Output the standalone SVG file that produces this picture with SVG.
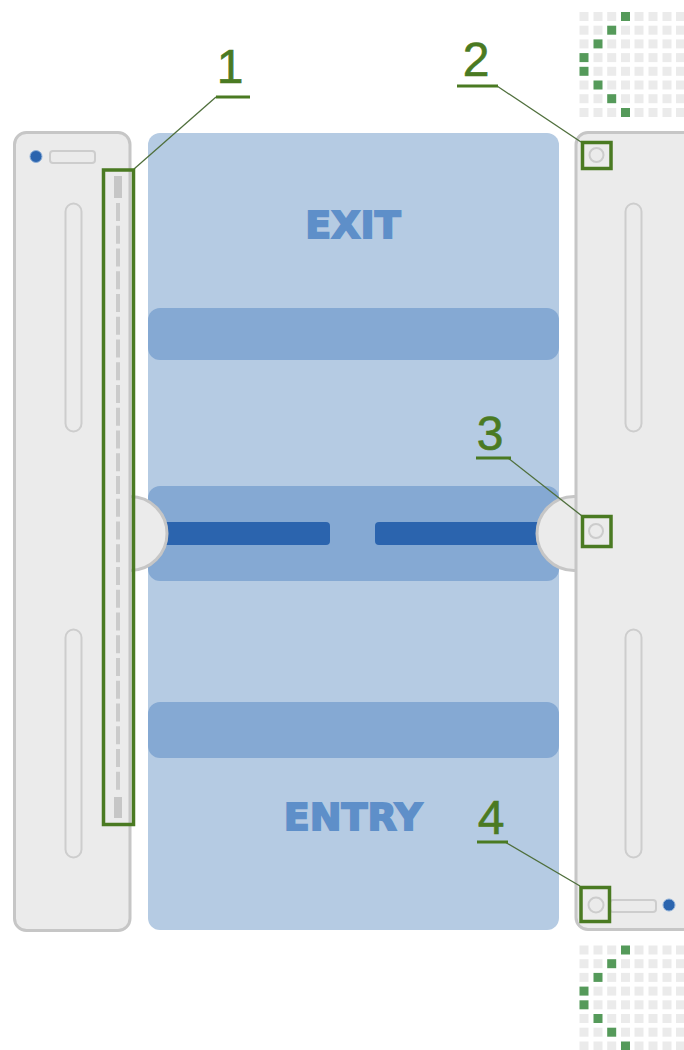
<svg xmlns="http://www.w3.org/2000/svg" xmlns:xlink="http://www.w3.org/1999/xlink" width="684" height="1050" viewBox="0 0 684 1050">
<style>
.panel{fill:#ebebeb;stroke:#c6c6c6;stroke-width:3}
.slot{fill:#ebebeb;stroke:#cdcdcd;stroke-width:2}
.led{fill:#2b64ae;stroke:#8fb0d8;stroke-width:1}
.band{fill:#85a9d3}
.bar{fill:#2b64ae}
.knob{fill:#ebebeb;stroke:#c6c6c6;stroke-width:3}
.port{fill:#ebebeb;stroke:#cccccc;stroke-width:2}
.mark{fill:none;stroke:#4a7a22;stroke-width:3.500}
.lead{fill:none;stroke:#4f6f3c;stroke-width:1.300}
.under{fill:none;stroke:#4a7a22;stroke-width:3}
.num{font-family:"Liberation Sans",Arial,sans-serif;font-size:48px;fill:#4a7a22;stroke:#4a7a22;stroke-width:.6;text-anchor:middle}
.word{font-family:"DejaVu Sans",sans-serif;font-weight:bold;font-size:38px;fill:#5e8fc9;stroke:#5e8fc9;stroke-width:1.800;text-anchor:middle}
.d{fill:#ebebeb}
.g{fill:#559a5a}
</style>
<defs>
<g id="grid">
<rect class="d" x="0" y="0" width="9" height="9"/><rect class="d" x="14" y="0" width="9" height="9"/><rect class="d" x="27.7" y="0" width="9" height="9"/><rect class="g" x="41.5" y="0" width="9" height="9"/><rect class="d" x="55" y="0" width="9" height="9"/><rect class="d" x="69" y="0" width="9" height="9"/><rect class="d" x="83" y="0" width="9" height="9"/><rect class="d" x="96.5" y="0" width="9" height="9"/>
<rect class="d" x="0" y="13.7" width="9" height="9"/><rect class="d" x="14" y="13.7" width="9" height="9"/><rect class="g" x="27.7" y="13.7" width="9" height="9"/><rect class="d" x="41.5" y="13.7" width="9" height="9"/><rect class="d" x="55" y="13.7" width="9" height="9"/><rect class="d" x="69" y="13.7" width="9" height="9"/><rect class="d" x="83" y="13.7" width="9" height="9"/><rect class="d" x="96.5" y="13.7" width="9" height="9"/>
<rect class="d" x="0" y="27.4" width="9" height="9"/><rect class="g" x="14" y="27.4" width="9" height="9"/><rect class="d" x="27.7" y="27.4" width="9" height="9"/><rect class="d" x="41.5" y="27.4" width="9" height="9"/><rect class="d" x="55" y="27.4" width="9" height="9"/><rect class="d" x="69" y="27.4" width="9" height="9"/><rect class="d" x="83" y="27.4" width="9" height="9"/><rect class="d" x="96.5" y="27.4" width="9" height="9"/>
<rect class="g" x="0" y="41.1" width="9" height="9"/><rect class="d" x="14" y="41.1" width="9" height="9"/><rect class="d" x="27.7" y="41.1" width="9" height="9"/><rect class="d" x="41.5" y="41.1" width="9" height="9"/><rect class="d" x="55" y="41.1" width="9" height="9"/><rect class="d" x="69" y="41.1" width="9" height="9"/><rect class="d" x="83" y="41.1" width="9" height="9"/><rect class="d" x="96.5" y="41.1" width="9" height="9"/>
<rect class="g" x="0" y="54.8" width="9" height="9"/><rect class="d" x="14" y="54.8" width="9" height="9"/><rect class="d" x="27.7" y="54.8" width="9" height="9"/><rect class="d" x="41.5" y="54.8" width="9" height="9"/><rect class="d" x="55" y="54.8" width="9" height="9"/><rect class="d" x="69" y="54.8" width="9" height="9"/><rect class="d" x="83" y="54.8" width="9" height="9"/><rect class="d" x="96.5" y="54.8" width="9" height="9"/>
<rect class="d" x="0" y="68.5" width="9" height="9"/><rect class="g" x="14" y="68.5" width="9" height="9"/><rect class="d" x="27.7" y="68.5" width="9" height="9"/><rect class="d" x="41.5" y="68.5" width="9" height="9"/><rect class="d" x="55" y="68.5" width="9" height="9"/><rect class="d" x="69" y="68.5" width="9" height="9"/><rect class="d" x="83" y="68.5" width="9" height="9"/><rect class="d" x="96.5" y="68.5" width="9" height="9"/>
<rect class="d" x="0" y="82.2" width="9" height="9"/><rect class="d" x="14" y="82.2" width="9" height="9"/><rect class="g" x="27.7" y="82.2" width="9" height="9"/><rect class="d" x="41.5" y="82.2" width="9" height="9"/><rect class="d" x="55" y="82.2" width="9" height="9"/><rect class="d" x="69" y="82.2" width="9" height="9"/><rect class="d" x="83" y="82.2" width="9" height="9"/><rect class="d" x="96.5" y="82.2" width="9" height="9"/>
<rect class="d" x="0" y="96" width="9" height="9"/><rect class="d" x="14" y="96" width="9" height="9"/><rect class="d" x="27.7" y="96" width="9" height="9"/><rect class="g" x="41.5" y="96" width="9" height="9"/><rect class="d" x="55" y="96" width="9" height="9"/><rect class="d" x="69" y="96" width="9" height="9"/><rect class="d" x="83" y="96" width="9" height="9"/><rect class="d" x="96.5" y="96" width="9" height="9"/>
</g>
</defs>
<rect width="684" height="1050" fill="#ffffff"/>

<g id="grid-top"><use href="#grid" x="579.5" y="12"/></g>
<g id="grid-bottom"><use href="#grid" x="579.5" y="945.5"/></g>

<g id="lane">
<rect x="148" y="133" width="411" height="797" rx="12" fill="#b5cbe3"/>
<rect class="band" x="148" y="308" width="411" height="52" rx="12"/>
<rect class="band" x="148" y="486" width="411" height="95" rx="12"/>
<rect class="band" x="148" y="702" width="411" height="56" rx="12"/>
<text class="word" x="353" y="238">EXIT</text>
<text class="word" x="353" y="830">ENTRY</text>
</g>

<g id="barrier">
<rect class="bar" x="160" y="522" width="170" height="23" rx="4"/>
<rect class="bar" x="375" y="522" width="175" height="23" rx="4"/>
<circle class="knob" cx="130" cy="533.5" r="37"/>
<circle class="knob" cx="574" cy="533.5" r="37"/>
</g>

<g id="gate-left">
<rect class="panel" x="14.500" y="132.500" width="115.500" height="798" rx="12"/>
<circle class="led" cx="36" cy="156.500" r="6"/>
<rect class="slot" x="50" y="151" width="45" height="12" rx="3"/>
<rect class="slot" x="65.500" y="203.500" width="16" height="228" rx="8"/>
<rect class="slot" x="65.500" y="629.500" width="16" height="228" rx="8"/>
<rect x="114" y="176" width="8" height="22" fill="#c6c6c6"/>
<rect x="114" y="797" width="8" height="21" fill="#c6c6c6"/>
<path d="M118 203V790" fill="none" stroke="#cbcbcb" stroke-width="4" stroke-dasharray="18 4.750"/>
</g>

<g id="gate-right">
<rect class="panel" x="576" y="132.500" width="130" height="797" rx="12"/>
<rect class="slot" x="625.500" y="203.500" width="16" height="228" rx="8"/>
<rect class="slot" x="625.500" y="629.500" width="16" height="228" rx="8"/>
<rect class="slot" x="610" y="900" width="46" height="12" rx="3"/>
<circle class="port" cx="596.500" cy="155" r="7"/>
<circle class="port" cx="596" cy="531" r="7"/>
<circle class="port" cx="596" cy="905" r="7.500"/>
<circle class="led" cx="669" cy="905" r="6"/>
</g>

<g id="connectors">
<path class="lead" d="M134 169L216 97"/>
<path class="lead" d="M497 86L581 142"/>
<path class="lead" d="M508 458L582 516"/>
<path class="lead" d="M505 842L580 886"/>
</g>

<g id="callout-1">
<rect class="mark" x="103.500" y="170" width="30" height="654.500"/>
<path class="under" d="M216 97H250"/>
<text class="num" x="230" y="83">1</text>
</g>
<g id="callout-2">
<rect class="mark" x="582.500" y="142.500" width="28.500" height="26"/>
<path class="under" d="M457 86H498"/>
<text class="num" x="476" y="76">2</text>
</g>
<g id="callout-3">
<rect class="mark" x="582.500" y="516.500" width="28.500" height="30"/>
<path class="under" d="M476 458H511"/>
<text class="num" x="490" y="450">3</text>
</g>
<g id="callout-4">
<rect class="mark" x="581" y="887.500" width="28.500" height="34"/>
<path class="under" d="M477 842H508"/>
<text class="num" x="491" y="834">4</text>
</g>
</svg>
